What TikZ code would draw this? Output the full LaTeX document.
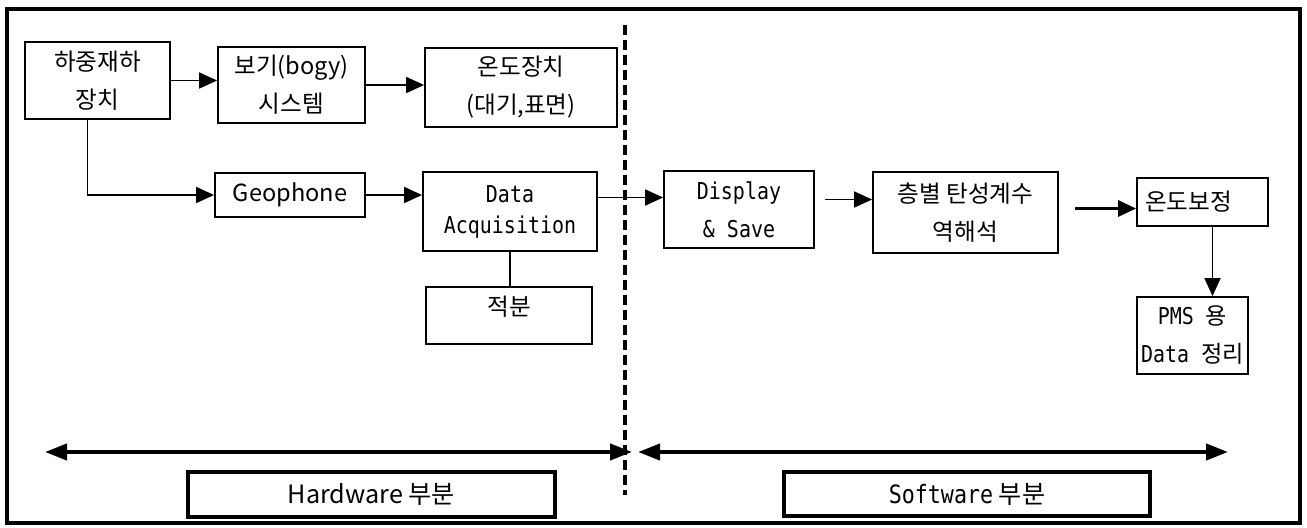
\documentclass[tikz,border=0pt]{standalone}
\usepackage{fontspec}
\usepackage{tikz}
\usetikzlibrary{calc,arrows.meta}
\setmainfont{Noto Sans CJK KR}
\newfontfamily\kr{Noto Sans CJK KR}
\newfontfamily\condmono[FakeStretch=0.86]{DejaVu Sans Mono}

\tikzset{
  blk/.style={draw, line width=0.9pt, align=center, inner sep=0pt,
    font=\fontsize{11.8pt}{19pt}\selectfont},
  monotext/.style={font=\condmono\fontsize{11.6pt}{19pt}\selectfont},
  partbox/.style={draw, line width=2pt, inner sep=0pt,
    font=\fontsize{12.6pt}{19pt}\selectfont},
  flow/.style={line width=0.9pt, -{Triangle[length=9pt,width=8pt]}},
  span/.style={line width=2pt,
    {Triangle[length=11pt,width=8pt]}-{Triangle[length=11pt,width=8pt]}},
}

\begin{document}
\begin{tikzpicture}[x=0.5pt,y=-0.5pt]
\useasboundingbox (0,0) rectangle (1307,527);
% outer frame
\draw[line width=2.2pt] (7,9) rectangle (1300,523);

% hardware side
\node[blk, minimum width=72.5pt, minimum height=38.5pt] (load) at (97.5,80.5) {하중재하\\장치};
\node[blk, minimum width=73.5pt, minimum height=38pt] (bogy) at (291.5,85) {보기(bogy)\\시스템};
\node[blk, minimum width=96pt, minimum height=39.5pt] (temp) at (521,87.5) {온도장치\\(대기,표면)};
\node[blk, minimum width=75pt, minimum height=22pt] (geo) at (290,195) {Geophone};
\node[blk, monotext, font=\condmono\fontsize{11.6pt}{15.5pt}\selectfont,
  minimum width=87pt, minimum height=39.5pt] (daq) at (510,211.5) {Data\\Acquisition};
\node[blk, minimum width=83pt, minimum height=28.5pt, text depth=10pt] (integ) at (509,315.5) {적분};

% software side
\node[blk, monotext, minimum width=75pt, minimum height=38.5pt] (disp) at (739,209.5) {Display\\\& Save};
\node[blk, minimum width=92.5pt, minimum height=40.5pt] (inv) at (965.5,212.5) {층별 탄성계수\\역해석};
\node[blk, align=left, text width=57.5pt, inner xsep=4pt,
  minimum height=24pt] (tcorr) at (1202.5,202) {온도보정};
\node[blk, monotext, minimum width=55.5pt, minimum height=38.5pt] (pms) at (1192.5,335.5) {PMS {\kr 용}\\Data {\kr 정리}};

% connectors
\draw[flow] (load.east) -- (load.east -| bogy.west);
\draw[flow] (bogy.east) -- (bogy.east -| temp.west);
\draw[flow] ([xshift=-5pt]load.south) |- (geo.west);
\draw[flow] (geo.east) -- (geo.east -| daq.west);
\draw[line width=0.7pt] (daq.south) -- (daq.south |- integ.north);
\draw[flow] ([yshift=7pt]daq.east) -- ([yshift=7pt]daq.east -| disp.west);
\draw[flow, shorten <=5pt] ([yshift=5pt]disp.east) -- ([yshift=5pt]disp.east -| inv.west);
\draw[flow, line width=1.6pt, shorten <=8pt] ([yshift=2pt]inv.east) -- ([yshift=2pt]inv.east -| tcorr.west);
\coordinate (tc) at ([xshift=5pt]tcorr.south);
\draw[flow] (tc) -- (tc |- pms.north);

% divider between the two parts
\coordinate (divT) at (625,25);
\coordinate (divB) at (625,495);
\draw[line width=1.8pt, dash pattern=on 5pt off 2.5pt] (divT) -- (divB);

% extent of each part
\coordinate (hwL) at (45,452);
\coordinate (hwR) at (632,452);
\coordinate (swL) at (638,452);
\coordinate (swR) at (1228,452);
\draw[span] (hwL) -- (hwR);
\draw[span] (swL) -- (swR);

\node[partbox, minimum width=183.5pt, minimum height=22.5pt] (hw) at (371.5,494.5) {Hardware 부분};
\node[partbox, minimum width=183pt, minimum height=22pt] (sw) at (967,494) {{\condmono\fontsize{12.6pt}{19pt}\selectfont Software} 부분};
\end{tikzpicture}
\end{document}
